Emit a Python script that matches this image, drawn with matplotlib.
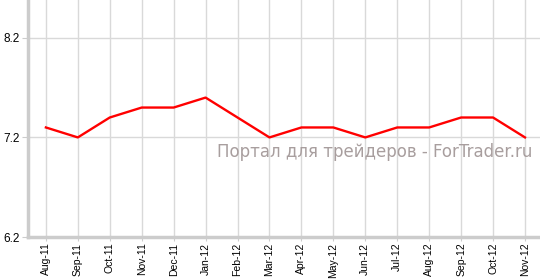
import matplotlib
matplotlib.use('Agg')
import matplotlib.pyplot as plt
import numpy as np

months = ['Aug-11', 'Sep-11', 'Oct-11', 'Nov-11', 'Dec-11', 'Jan-12', 'Feb-12', 'Mar-12',
          'Apr-12', 'May-12', 'Jun-12', 'Jul-12', 'Aug-12', 'Sep-12', 'Oct-12', 'Nov-12']
values = [7.3, 7.2, 7.4, 7.5, 7.5, 7.6, 7.4, 7.2, 7.3, 7.3, 7.2, 7.3, 7.3, 7.4, 7.4, 7.2]
yticks = [6.2, 7.2, 8.2]

fig = plt.figure(figsize=(5.4, 2.8), dpi=100)
ax = fig.add_axes([28/540, 43/280, 1 - 28/540, 1 - 43/280])

x = np.arange(len(months))
ax.plot(x, values, color='#ff0000', lw=1.7, zorder=3)

ax.set_xlim(-0.56, len(months) - 1 + 0.47)
ax.set_ylim(6.2, 8.58)
ax.set_xticks(x)
ax.set_xticklabels(months, rotation=90, fontsize=7.5, family='Liberation Sans')
ax.set_yticks(yticks)
ax.set_yticklabels([str(v) for v in yticks], fontsize=8.5, family='Liberation Sans')

ax.grid(True, color='#d9d9d9', lw=1)
ax.set_axisbelow(True)
for s in ['top', 'right']:
    ax.spines[s].set_visible(False)
for s in ['left', 'bottom']:
    ax.spines[s].set_color('#cccccc')
    ax.spines[s].set_linewidth(2.5)
ax.tick_params(axis='y', length=4, color='#cccccc', pad=2)
ax.tick_params(axis='x', length=3, color='#cccccc', pad=1)

ax.text(0.985, 0.36, 'Портал для трейдеров - ForTrader.ru', transform=ax.transAxes,
        ha='right', va='center', fontsize=12, color='#a89e9e', family='DejaVu Sans')

fig.savefig('out.png', dpi=100)
